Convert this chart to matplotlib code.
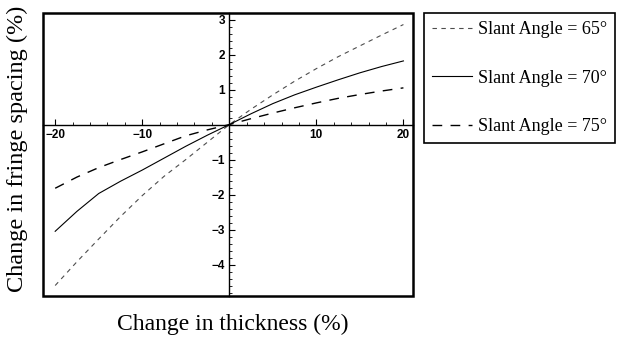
import matplotlib.pyplot as plt
from matplotlib.patches import Rectangle
from matplotlib.ticker import MultipleLocator

# data
thickness = [-20, -17.5, -15, -12.5, -10, -7.5, -5, -2.5, 0, 2.5, 5, 7.5, 10, 12.5, 15, 17.5, 20]
spacing_65 = [-4.6, -3.92, -3.27, -2.63, -2.03, -1.48, -1.0, -0.5, 0.0,
              0.44, 0.85, 1.24, 1.6, 1.94, 2.25, 2.56, 2.86]
spacing_70 = [-3.05, -2.48, -1.97, -1.62, -1.3, -0.96, -0.62, -0.3, 0.0,
              0.31, 0.6, 0.85, 1.07, 1.28, 1.48, 1.66, 1.82]
spacing_75 = [-1.82, -1.5, -1.23, -1.0, -0.78, -0.55, -0.32, -0.15, 0.0,
              0.17, 0.33, 0.48, 0.62, 0.75, 0.86, 0.96, 1.05]
labels = ['Slant Angle = 65°', 'Slant Angle = 70°', 'Slant Angle = 75°']
xticks = [-20, -10, 10, 20]
yticks = [-4, -3, -2, -1, 1, 2, 3]

fig = plt.figure(figsize=(6.24, 3.37), dpi=100)
ax = fig.add_axes([43/624, 1-296/337, 370/624, 283/337])

l1, = ax.plot(thickness, spacing_65, color='0.3', lw=0.8, dashes=(4, 4))
l2, = ax.plot(thickness, spacing_70, color='black', lw=0.8)
l3, = ax.plot(thickness, spacing_75, color='black', lw=1.0, dashes=(7, 6))

ax.set_xlim(-21.4, 21.1)
ax.set_ylim(-4.9, 3.19)

# axes through the origin
ax.spines['left'].set_position(('data', 0))
ax.spines['bottom'].set_position(('data', 0))
ax.spines['top'].set_visible(False)
ax.spines['right'].set_visible(False)
ax.spines['left'].set_linewidth(1.0)
ax.spines['bottom'].set_linewidth(1.0)
ax.add_patch(Rectangle((0, 0), 1, 1, transform=ax.transAxes, fill=False,
                       lw=1.8, edgecolor='black', clip_on=False))

ax.set_xticks(xticks)
ax.set_yticks(yticks)
ax.xaxis.set_minor_locator(MultipleLocator(2))
ax.yaxis.set_minor_locator(MultipleLocator(0.2))
ax.tick_params(axis='x', which='both', direction='in', pad=3, labelsize=8.5)
ax.tick_params(axis='y', which='both', direction='in', pad=3, labelsize=8.5)
ax.tick_params(which='major', length=4, width=0.8)
ax.tick_params(which='minor', length=2, width=0.6)
for t in ax.get_xticklabels() + ax.get_yticklabels():
    t.set_fontfamily('Liberation Sans')
    t.set_fontweight('bold')

fig.text(233/624, 1-324/337, 'Change in thickness (%)', family='Liberation Serif',
         fontsize=17, ha='center', va='center')
fig.text(17/624, 1-149/337, 'Change in fringe spacing (%)', family='Liberation Serif',
         fontsize=17.5, ha='center', va='center', rotation=90)

leg = fig.legend([l1, l2, l3], labels, loc='upper left',
                 bbox_to_anchor=(424/624, 1-13/337), fancybox=False,
                 edgecolor='black', framealpha=1,
                 prop={'family': 'Liberation Serif', 'size': 13},
                 handlelength=2.2, handletextpad=0.35, labelspacing=1.75,
                 borderpad=0.45, borderaxespad=0)
leg.get_frame().set_linewidth(1.2)

fig.savefig('out.png', dpi=100)
